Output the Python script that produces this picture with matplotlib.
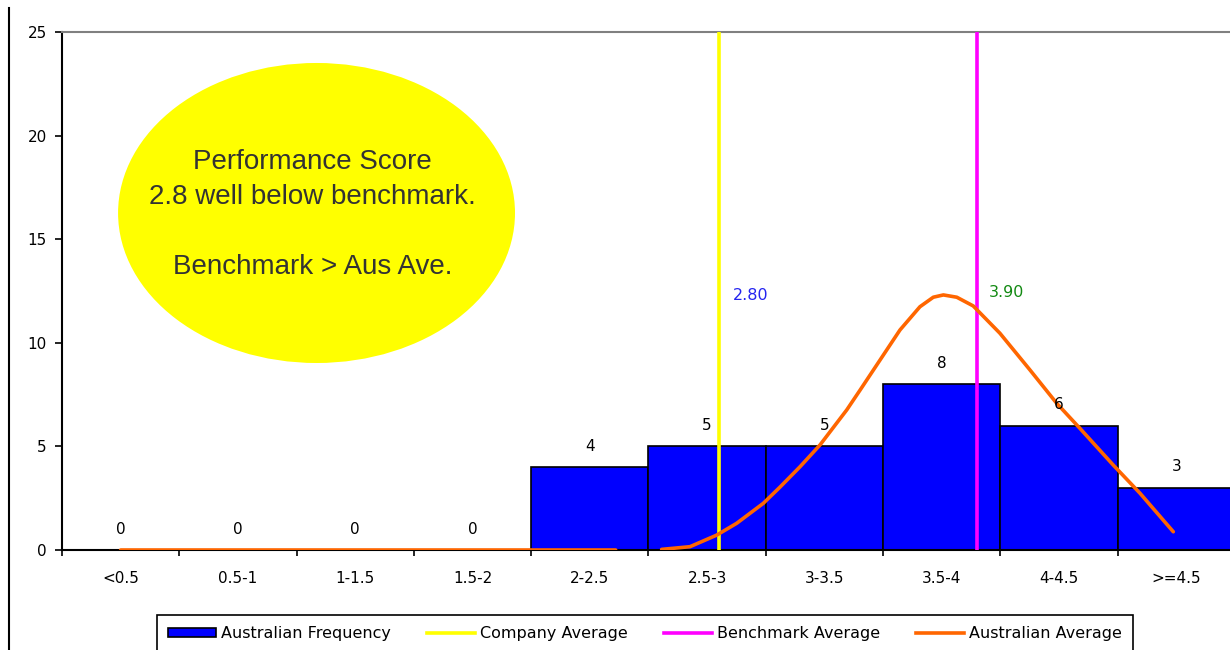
import matplotlib
matplotlib.use("Agg")
import matplotlib.pyplot as plt
import numpy as np
from matplotlib.patches import Ellipse, Patch
from matplotlib.lines import Line2D
from matplotlib.ticker import NullFormatter

# ---- data ----
categories = ['<0.5', '0.5-1', '1-1.5', '1.5-2', '2-2.5',
              '2.5-3', '3-3.5', '3.5-4', '4-4.5', '>=4.5']
frequency = [0, 0, 0, 0, 4, 5, 5, 8, 6, 3]
bin_width = 0.5

company_average = 2.80
benchmark_average = 3.90

# Australian average distribution curve (score, frequency); NaN marks the break
curve_score = [0.25, 2.36, np.nan,
               2.556, 2.677, 2.791, 2.876, 2.989, 3.060, 3.146, 3.231, 3.345,
               3.402, 3.487, 3.572, 3.657, 3.714, 3.757, 3.814, 3.884, 3.998,
               4.126, 4.240, 4.339, 4.481, 4.595, 4.737]
curve_freq = [0.0, 0.0, np.nan,
              0.03, 0.16, 0.72, 1.29, 2.25, 3.03, 4.02, 5.07, 6.76,
              7.72, 9.17, 10.62, 11.74, 12.20, 12.31, 12.20, 11.78, 10.46,
              8.69, 7.08, 5.87, 4.10, 2.74, 0.88]

note_lines = ['Performance Score', '2.8 well below benchmark.', '',
              'Benchmark > Aus Ave.']

# ---- figure ----
plt.rcParams['font.family'] = ['DejaVu Sans']
W, H = 1230, 650
fig = plt.figure(figsize=(W / 100, H / 100), dpi=100)
fig.patch.set_facecolor('white')

ax_left, ax_right, ax_top, ax_bottom = 62, 1235, 32, 550
ax = fig.add_axes([ax_left / W, 1 - ax_bottom / H,
                   (ax_right - ax_left) / W, (ax_bottom - ax_top) / H])

centers = bin_width * (np.arange(len(categories)) + 0.5)

ax.bar(centers, frequency, width=bin_width, color='#0000FF',
       edgecolor='black', linewidth=1.2, zorder=2)
ax.axvline(company_average, color='#FFFF00', lw=2.6, zorder=3)
ax.axvline(benchmark_average, color='#FF00FF', lw=2.6, zorder=3)
ax.plot(curve_score, curve_freq, color='#FF6600', lw=2.6, zorder=4,
        solid_joinstyle='round', solid_capstyle='round')

# value labels above each bar
for c, v in zip(centers, frequency):
    ax.annotate(str(v), (c, v), xytext=(0, 21), textcoords='offset pixels',
                ha='center', va='center', fontsize=11, color='black', zorder=5)

# average markers
ax.annotate(f'{company_average:.2f}', (company_average, 12.3), xytext=(14, 0),
            textcoords='offset pixels', ha='left', va='center',
            fontsize=11.5, color='#2424F0')
ax.annotate(f'{benchmark_average:.2f}', (benchmark_average, 12.45), xytext=(12, 0),
            textcoords='offset pixels', ha='left', va='center',
            fontsize=11.5, color='#138A13')

# call-out ellipse
ell = Ellipse((0.217, 0.6506), 0.3384, 0.5792, transform=ax.transAxes,
              facecolor='#FFFF00', edgecolor='none', zorder=1)
ax.add_patch(ell)
for txt, yy in zip(note_lines, [0.749, 0.6815, 0.614, 0.5463]):
    if txt:
        ax.text(0.2137, yy, txt, transform=ax.transAxes, ha='center',
                va='center', fontsize=20, family='Liberation Sans',
                color='#333333', zorder=2)

# axes styling
ax.set_xlim(0, bin_width * len(categories))
ax.set_ylim(0, 25)
ax.set_yticks(np.arange(0, 26, 5))
ax.set_xticks(np.arange(0, bin_width * len(categories) + 0.01, bin_width))
ax.xaxis.set_major_formatter(NullFormatter())
ax.set_xticks(centers, minor=True)
ax.set_xticklabels(categories, minor=True)
ax.tick_params(axis='x', which='minor', length=0, pad=15, labelsize=11)
ax.tick_params(axis='x', which='major', length=4.5, width=1.2, direction='out')
ax.tick_params(axis='y', length=5, width=1.2, direction='out', pad=6,
               labelsize=11)

for side in ('left', 'bottom'):
    ax.spines[side].set_color('black')
    ax.spines[side].set_linewidth(1.5)
ax.spines['top'].set_color('#808080')
ax.spines['top'].set_linewidth(1.5)
ax.spines['right'].set_visible(False)

# legend
handles = [Patch(facecolor='#0000FF', edgecolor='black', linewidth=1.2),
           Line2D([], [], color='#FFFF00', lw=2.6),
           Line2D([], [], color='#FF00FF', lw=2.6),
           Line2D([], [], color='#FF6600', lw=2.6)]
labels = ['Australian Frequency', 'Company Average', 'Benchmark Average',
          'Australian Average']
leg = fig.legend(handles, labels, loc='upper left',
                 bbox_to_anchor=(157 / W, 0, 976 / W, 1 - 615 / H),
                 mode='expand', ncol=4, fontsize=11.5, frameon=True,
                 fancybox=False, edgecolor='black', framealpha=1,
                 handlelength=3.0, handleheight=0.5, handletextpad=0.3,
                 borderpad=0.7, borderaxespad=0)
leg.get_frame().set_linewidth(1.2)

# chart-area border on the left
fig.add_artist(Line2D([9 / W, 9 / W], [0, 1 - 8 / H], color='black', lw=1.5,
                      transform=fig.transFigure))

fig.savefig('out.png', dpi=100, facecolor='white')
